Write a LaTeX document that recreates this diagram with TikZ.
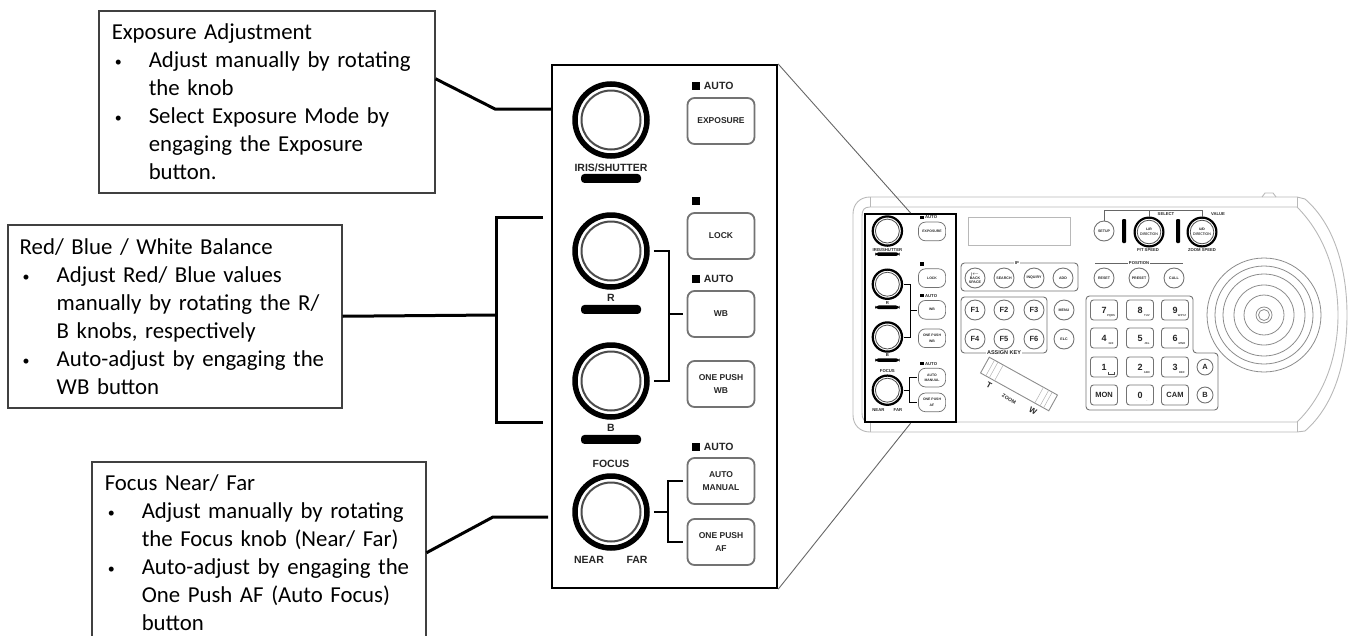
\documentclass[tikz,border=0pt]{standalone}
\usepackage{fontspec}
\setmainfont{Carlito}
\setsansfont{Liberation Sans}
\usetikzlibrary{positioning,calc}
\definecolor{inkgray}{RGB}{64,64,64}
\newcommand{\pscale}{.4}
\newcommand{\blt}{\makebox[34pt][l]{\raisebox{1pt}{\fontsize{14}{14}\selectfont\textbullet}}}
\tikzset{
  callout/.style={draw=inkgray,line width=1.5pt,anchor=north west,align=left,inner sep=0pt,
    font=\fontsize{22.8}{28}\selectfont},
  lead/.style={line width=3pt,draw=black},
  leader/.style={line width=.9pt,draw=black!60},
  framebox/.style={draw=black,fill=white,line width=2.2pt,anchor=north west,inner sep=0pt},
  knob/.style={circle,draw=black,line width=\pscale*5.5pt,minimum size=72pt,inner sep=0pt,align=center},
  knobring/.style={circle,draw=black!70,line width=\pscale*2pt,minimum size=59pt,inner sep=0pt},
  barmark/.style={fill=black,rounded corners=3.5pt,minimum width=60pt,minimum height=9pt,inner sep=0pt},
  panelbtn/.style={draw=black!55,line width=\pscale*1.8pt,rounded corners=7pt,minimum width=67pt,
    minimum height=46pt,inner sep=0pt,align=center,text=black!85,
    font=\sffamily\bfseries\fontsize{8.5}{13}\selectfont},
  knoblabel/.style={inner sep=0pt,text=black!85,font=\sffamily\bfseries\fontsize{10.5}{12}\selectfont},
  indic/.style={fill=black,minimum size=8pt,inner sep=0pt},
  wire/.style={line width=\pscale*1.5pt,draw=black},
  shell/.style={line width=.9pt,draw=black!28},
  trim/.style={line width=.9pt,draw=black!55,rounded corners=3.5pt},
  roundkey/.style={circle,draw=black!55,line width=.9pt,minimum size=20pt,inner sep=0pt,align=center,
    text=black!85,font=\sffamily\bfseries\fontsize{3.6}{4.2}\selectfont},
  fkey/.style={roundkey,font=\sffamily\bfseries\fontsize{7.5}{9}\selectfont},
  padkey/.style={draw=black!55,line width=.9pt,rounded corners=3pt,minimum width=27pt,minimum height=20pt,
    inner sep=0pt,text=black!85,font=\sffamily\bfseries\fontsize{9}{10}\selectfont},
  padsub/.style={inner sep=0pt,text=black!75,font=\sffamily\bfseries\fontsize{2.8}{3}\selectfont},
  tinylabel/.style={inner sep=1pt,text=black!85,font=\sffamily\bfseries\fontsize{4.2}{5}\selectfont}
}
\newcommand{\drawknob}[4][]{%
  \node[knob,#1] (#2) at (#3) {#4};
  \node[knobring,#1] at (#2) {};}
\newcommand{\keypanel}[3]{%
  \begin{scope}[shift={(#2)},scale=#3,transform shape,name prefix=#1-]
    \renewcommand{\pscale}{#3}
    \foreach \n/\y in {iris/56,r/187,b/317,f/448} {\drawknob{\n}{60,\y}{}}
    \foreach \n in {iris,r,b} {\node[barmark,below=15pt of \n] (bar\n) {};}
    \node[knoblabel,below=4.5pt of iris] (lbiris) {IRIS/SHUTTER};
    \node[knoblabel,below=4.5pt of r] (lbr) {R};
    \node[knoblabel,below=4.5pt of b] (lbb) {B};
    \node[knoblabel,above=5pt of f] (lbf) {FOCUS};
    \node[knoblabel] (lbnear) at (38,496) {NEAR};
    \node[knoblabel] (lbfar) at (86,496) {FAR};
    \foreach \n/\y/\txt in {exp/57/EXPOSURE,lock/172/LOCK,wb/250/WB,opwb/320/{ONE PUSH\\WB},
      am/417/{AUTO\\MANUAL},opaf/478/{ONE PUSH\\AF}} {\node[panelbtn] (\n) at (170,\y) {\txt};}
    \node[indic] (indlock) at (145,137) {};
    \foreach \y in {22,215,383} {
      \node[indic] (ind\y) at (145,\y) {};
      \node[knoblabel,right=3.5pt of ind\y] (auto\y) {AUTO};
    }
    \draw[wire] ([xshift=4pt]r.east) -- ++(15,0) |- ([xshift=4pt]b.east);
    \draw[wire] ([xshift=-4pt]wb.west) -- ++(-14,0);
    \draw[wire] ([xshift=4pt]f.east) -- ++(14,0) coordinate (fj);
    \draw[wire] ([xshift=-4pt]am.west) -| (fj) |- ([xshift=-4pt]opaf.west);
  \end{scope}}

\begin{document}
\begin{tikzpicture}[x=1pt,y=-1pt]
  \clip (0,0) rectangle (1352,635);
  \draw[shell] (870,197) -- (1297,197) -- (1305,199) .. controls (1335,225) and (1347,270) .. (1347,315)
    .. controls (1347,360) and (1335,405) .. (1305,431) -- (1297,432) -- (870,432)
    .. controls (860,432) and (853,425) .. (853,415) -- (853,214) .. controls (853,204) and (860,197) .. (870,197);
  \draw[shell] (1262,197) -- (1265,193) -- (1273,193) -- (1276,197);
  \draw[shell] (862,216) .. controls (862,210) and (864,207) .. (870,207) -- (1297,207)
    .. controls (1325,235) and (1338,275) .. (1338,315) .. controls (1338,355) and (1325,395) .. (1297,422)
    -- (870,422) .. controls (864,422) and (862,419) .. (862,413) -- cycle;
  \draw[shell] (870,197) -- (870,207) (870,422) -- (870,432) (1297,197) -- (1297,207) (1297,422) -- (1297,432);
  \node[draw=black!28,line width=.9pt,minimum width=102pt,minimum height=28pt,inner sep=0pt] (lcd) at (1019,231) {};

  \node[framebox,minimum width=225pt,minimum height=523pt] (bigframe) at (551,64) {};
  \node[framebox,minimum width=91pt,minimum height=208pt] (smallframe) at (864,213) {};
  \keypanel{big}{551,64}{1}
  \keypanel{small}{863,208.3}{.406}

  \node[callout,text width=336pt,minimum height=182pt] (expbox) at (98,10)
    {\hspace*{13pt}Exposure Adjustment\\ \hspace*{16pt}\blt Adjust manually by rotating\\
     \hspace*{50pt}the knob\\ \hspace*{16pt}\blt Select Exposure Mode by\\
     \hspace*{50pt}engaging the Exposure\\ \hspace*{50pt}button.};
  \node[callout,text width=334pt,minimum height=183pt] (wbbox) at (7,224)
    {\hspace*{12pt}Red/ Blue / White Balance\\ \hspace*{15pt}\blt Adjust Red/ Blue values\\
     \hspace*{49pt}manually by rotating the R/\\ \hspace*{49pt}B knobs, respectively\\
     \hspace*{15pt}\blt Auto-adjust by engaging the\\ \hspace*{49pt}WB button};
  \node[callout,text width=334pt,minimum height=182pt] (focbox) at (91,461)
    {\hspace*{13pt}Focus Near/ Far\\ \hspace*{16pt}\blt Adjust manually by rotating\\
     \hspace*{50pt}the Focus knob (Near/ Far)\\ \hspace*{16pt}\blt Auto-adjust by engaging the\\
     \hspace*{50pt}One Push AF (Auto Focus)\\ \hspace*{50pt}button};

  \coordinate (exbend) at (495,109);
  \coordinate (brmid) at (496,315);
  \coordinate (brtop) at (543,217);
  \coordinate (brbot) at (543,422);
  \coordinate (fobend) at (493,517);
  \coordinate (foend) at (548,517);
  \draw[lead] ([yshift=23pt]expbox.east) -- (exbend) -- (bigframe.west |- exbend);
  \draw[lead] (wbbox.east) -- (brmid);
  \draw[lead] (brtop) -| (brmid) |- (brbot);
  \draw[lead] (focbox.east) -- (fobend) -- (foend);
  \draw[leader] (bigframe.north east) -- (smallframe.north);
  \draw[leader] (bigframe.south east) -- (smallframe.south);

  \draw[trim] (961,263) rectangle (1078,291);
  \node[tinylabel,fill=white] (iplabel) at (1017,263) {IP};
  \foreach \n/\x/\txt in {back/975/{\textbar$\leftarrow$\\BACK\\SPACE},search/1004/SEARCH,inquiry/1034/INQUIRY,add/1063/ADD,
    reset/1104/RESET,preset/1139/PRESET,call/1174/CALL} {\node[roundkey] (\n) at (\x,278) {\txt};}
  \draw[trim] (961,297) rectangle (1047,353);
  \node[tinylabel,fill=white,font=\sffamily\bfseries\fontsize{5.5}{6}\selectfont] (assign) at (1004,353) {ASSIGN KEY};
  \foreach \i/\x/\y in {1/975/310,2/1004/310,3/1034/310,4/975/339,5/1004/339,6/1034/339} {
    \node[fkey] (f\i) at (\x,\y) {F\i};}
  \node[roundkey] (menu) at (1064,310) {MENU};
  \node[roundkey] (elc) at (1064,339) {ELC};

  \begin{scope}[shift={(1019,384)},rotate=-29]
    \draw[line width=.9pt,draw=black!45] (-39,-9) rectangle (39,9);
    \foreach \x in {-33,-29,-23,23,29,33} {\draw[line width=.5pt,draw=black!30] (\x,-9) -- (\x,9);}
  \end{scope}
  \node[knoblabel,rotate=-29,font=\sffamily\bfseries\fontsize{8}{9}\selectfont] (zt) at (989,385) {T};
  \node[tinylabel,rotate=-29,font=\sffamily\bfseries\fontsize{5}{6}\selectfont] (zz) at (1009,399) {ZOOM};
  \node[knoblabel,rotate=-29,font=\sffamily\bfseries\fontsize{8}{9}\selectfont] (zw) at (1033,411) {W};

  \node[roundkey] (setup) at (1104,231) {SETUP};
  \drawknob[scale=.4]{lrknob}{1149,232}{\fontsize{8.5}{10}\sffamily\bfseries L/R\\DIRECTION}
  \drawknob[scale=.4]{udknob}{1202,232}{\fontsize{8.5}{10}\sffamily\bfseries U/D\\DIRECTION}
  \node[barmark,rounded corners=1pt,minimum width=4pt,minimum height=24pt] (lrbar) at (1124,231) {};
  \node[barmark,rounded corners=1pt,minimum width=4pt,minimum height=24pt] (udbar) at (1178,231) {};
  \draw[line width=.8pt,draw=black!60] (setup.north) |- (1202,210) coordinate (selval) -- (udknob.north);
  \draw[line width=.8pt,draw=black!60] (lrknob.north) -- (lrknob.north |- selval);
  \node[tinylabel] (select) at (1166,214) {SELECT};
  \node[tinylabel] (value) at (1218,214) {VALUE};
  \node[tinylabel] (ptspeed) at (1148,250) {P/T SPEED};
  \node[tinylabel] (zoomspeed) at (1202,250) {ZOOM SPEED};
  \coordinate (posl) at (1095,263);
  \coordinate (posr) at (1183,263);
  \draw[line width=.6pt,draw=black!60] (posl) -- (posr);
  \node[tinylabel,fill=white] (position) at (1139,263) {POSITION};

  \draw[trim] (1086,296) -- (1193,296) -- (1193,353) -- (1218,353) -- (1218,410) -- (1086,410) -- cycle;
  \foreach \d/\x/\y/\s in {7/1104/310/PQRS,8/1140/310/TUV,9/1175/310/WXYZ,4/1104/338/GHI,5/1140/338/JKL,6/1175/338/MNO,
    1/1104/367/,2/1140/367/ABC,3/1175/367/DEF,0/1140/395/.} {
    \node[padkey] (k\d) at (\x,\y) {\d};
    \node[padsub] at ([xshift=7pt,yshift=-6pt]k\d.center) {\s};
  }
  \draw[line width=.5pt,draw=black!70] (1108,372) -- (1108,374) -- (1114,374) -- (1114,372);
  \node[padkey,font=\sffamily\bfseries\fontsize{7.5}{9}\selectfont] (mon) at (1104,395) {MON};
  \node[padkey,font=\sffamily\bfseries\fontsize{7.5}{9}\selectfont] (cam) at (1175,395) {CAM};
  \node[fkey,minimum size=16pt] (keya) at (1205,367) {A};
  \node[fkey,minimum size=16pt] (keyb) at (1205,395) {B};

  \coordinate (joy) at (1264,315);
  \foreach \r in {57,49,41,30,20,8,5.5} {\draw[line width=.8pt,draw=black!45] (joy) circle (\r);}
\end{tikzpicture}
\end{document}
